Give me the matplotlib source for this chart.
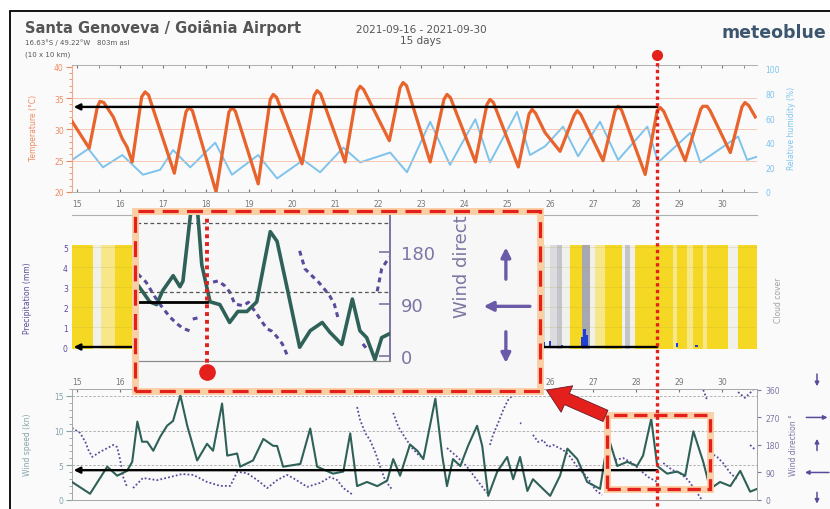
"""
Meteogram recreation: Santa Genoveva / Goiania airport, 15 days,
with the zoom inset and the annotation arrows drawn on top.
"""
import numpy as np
import matplotlib
matplotlib.use("Agg")
import matplotlib.pyplot as plt
from matplotlib.patches import Rectangle, FancyArrowPatch
from matplotlib.lines import Line2D
from matplotlib.transforms import Bbox, TransformedBbox

nan = np.nan

# ---- data (time in days of September 2021) ----
days = list(range(15, 31))

temp_t = [14.88, 15.28, 15.47, 15.53, 15.62, 15.84, 16.05, 16.16, 16.28,
          16.50, 16.58, 16.66, 17.26, 17.53, 17.60, 17.68, 18.23,
          18.53, 18.60, 18.68, 19.21, 19.49, 19.56, 19.64, 20.23,
          20.51, 20.58, 20.66, 21.23, 21.51, 21.58, 21.66, 22.26,
          22.51, 22.58, 22.66, 23.21, 23.53, 23.60, 23.68, 24.26,
          24.53, 24.60, 24.68, 25.26, 25.51, 25.58, 25.66, 25.88, 26.23,
          26.56, 26.63, 26.71, 27.23, 27.51, 27.58, 27.66, 28.21,
          28.49, 28.56, 28.64, 29.14, 29.50, 29.55, 29.65, 29.72, 30.19,
          30.46, 30.53, 30.62, 30.77]
temp_v = [31.3, 27.0, 33.6, 34.5, 34.3, 32.0, 28.5, 27.2, 24.8,
          35.2, 36.0, 35.5, 23.0, 32.8, 33.5, 33.0, 20.0,
          32.8, 33.5, 32.9, 21.3, 34.8, 35.6, 35.1, 24.5,
          35.4, 36.2, 35.7, 24.8, 36.1, 36.9, 36.4, 28.2,
          36.7, 37.5, 37.0, 24.8, 34.8, 35.6, 35.1, 24.8,
          34.0, 34.8, 34.3, 24.0, 32.5, 33.2, 32.6, 29.5, 26.5,
          32.3, 33.0, 32.4, 25.0, 33.0, 33.7, 33.1, 22.8,
          33.0, 33.5, 32.9, 25.0, 33.2, 33.7, 33.7, 33.0, 26.3,
          33.6, 34.3, 33.8, 32.0]

hum_t = [14.88, 15.26, 15.60, 16.05, 16.53, 16.93, 17.23, 17.63, 18.21, 18.60, 19.21,
         19.65, 20.26, 20.65, 21.19, 21.58, 22.28, 22.67, 23.21, 23.67, 24.26, 24.60,
         25.23, 25.53, 25.88, 26.30, 26.65, 27.16, 27.58, 28.26, 28.51, 29.26, 29.49,
         30.37, 30.58, 30.84]
hum_v = [26, 35, 20, 30, 14, 18, 34, 20, 40, 14, 30,
         11, 26, 16, 36, 24, 32, 16, 57, 22, 59, 24,
         65, 30, 37, 53, 29, 57, 26, 53, 24, 48, 24,
         45, 26, 29]

# cloud cover bands (only the parts not hidden by the inset), % cover
cloud_t0 = [14.88, 15.37, 15.56, 15.88, 25.77, 25.88, 26.00, 26.16, 26.28, 26.47, 26.74,
            26.93, 27.05, 27.28, 27.67, 27.74, 27.86, 27.98, 28.86, 28.95, 29.19, 29.33,
            29.56, 29.65, 30.14, 30.37]
cloud_t1 = [15.37, 15.56, 15.88, 16.35, 25.88, 26.00, 26.16, 26.28, 26.47, 26.74, 26.93,
            27.05, 27.28, 27.67, 27.74, 27.86, 27.98, 28.86, 28.95, 29.19, 29.33, 29.56,
            29.65, 30.14, 30.37, 30.84]
cloud_pct = [0, 40, 20, 0, 60, 40, 60, 80, 40, 0, 90,
             40, 20, 0, 40, 70, 30, 0, 20, 0, 20, 0,
             20, 0, 40, 0]

precip_t = [25.84, 26.00, 26.28, 26.74, 26.80, 26.86, 27.65, 28.95, 29.40]
precip_v = [0.25, 0.30, 0.08, 0.50, 0.90, 0.60, 0.05, 0.20, 0.08]

ws_t = [14.88, 15.30, 15.70, 15.93, 16.16, 16.28, 16.40, 16.51, 16.63, 16.77, 16.93,
        17.09, 17.23, 17.40, 17.56, 17.79, 18.02, 18.16, 18.37, 18.49, 18.72, 18.79,
        19.09, 19.33, 19.56, 19.65, 19.79, 20.19, 20.42, 20.58, 20.95, 21.19, 21.35,
        21.51, 21.74, 21.98, 22.21, 22.35, 22.51, 22.74, 22.91, 23.05, 23.33, 23.49,
        23.60, 23.74, 23.91, 24.09, 24.30, 24.42, 24.56, 24.77, 25.00, 25.14, 25.30,
        25.47, 25.60, 26.00, 26.23, 26.40, 26.63, 26.86, 27.16, 27.35, 27.56, 27.79,
        28.02, 28.16, 28.35, 28.49, 28.72, 28.95, 29.14, 29.33, 29.56, 29.72, 29.95,
        30.19, 30.42, 30.65, 30.81]
ws_v = [2.6, 0.9, 4.8, 3.5, 4.2, 5.5, 11.3, 8.4, 8.4, 7.1, 9.1,
        10.7, 11.4, 15.1, 10.7, 5.7, 8.1, 7.1, 13.9, 6.4, 6.7, 4.8,
        5.7, 8.8, 7.8, 7.8, 4.8, 5.2, 10.3, 4.8, 3.8, 4.1, 9.6,
        2.0, 2.6, 2.0, 2.8, 5.9, 3.5, 8.0, 7.1, 5.9, 14.6, 6.4,
        2.0, 5.9, 4.9, 7.8, 10.7, 7.8, 0.6, 4.1, 6.2, 3.0, 6.2,
        1.3, 3.0, 0.6, 3.5, 7.4, 5.9, 2.6, 1.6, 9.1, 4.9, 5.5,
        4.9, 6.4, 11.7, 4.9, 3.8, 4.1, 3.5, 9.9, 5.5, 1.6, 2.6,
        2.0, 4.2, 1.2, 1.6]

# wind direction, nan separates runs of dots
wd_t = [14.88, 15.07, 15.19, 15.26, 15.35, 15.53, 15.84, 15.93, 16.00, 16.07, 16.16, nan,
        16.30, 16.53, 16.86, 17.16, 17.44, 17.70, 18.02, 18.33, 18.56, 18.72, 18.95,
        19.19, 19.42, 19.65, 19.88, 20.02, 20.35, 20.65, 20.88, 21.05, 21.19, 21.42, nan,
        21.51, 21.58, 21.70, 21.81, 21.93, 22.05, 22.16, 22.33, nan,
        22.35, 22.47, 22.63, 22.79, 22.98, nan,
        23.60, 23.84, 24.07, 24.30, 24.53, nan,
        24.60, 24.67, 24.72, 24.79, 24.91, 25.02, 25.14, nan,
        25.30, 25.33, nan,
        25.60, 25.72, 25.84, 25.95, 26.07, 26.30, 26.47, 26.63, 26.86, 27.05, 27.21, nan,
        27.51, 27.70, 27.91, 28.09, 28.28, 28.49, nan,
        28.63, 28.84, 29.02, 29.21, 29.42, 29.53, nan,
        29.56, 29.65, nan,
        29.72, 29.88, 30.02, 30.19, 30.37, nan,
        30.37, 30.53, 30.72, nan,
        30.65, 30.77]
wd_v = [236, 219, 190, 164, 141, 157, 180, 173, 131, 75, 43, nan,
        39, 72, 65, 75, 85, 82, 59, 46, 46, 92, 88,
        65, 39, 65, 82, 72, 43, 56, 75, 65, 39, 16, nan,
        304, 262, 219, 196, 157, 108, 65, 33, nan,
        285, 239, 203, 170, 141, nan,
        170, 141, 108, 65, 23, nan,
        180, 213, 229, 252, 295, 327, 344, nan,
        252, 250, nan,
        213, 190, 196, 173, 180, 164, 141, 108, 75, 33, 16, nan,
        131, 137, 121, 98, 75, 59, nan,
        121, 98, 88, 65, 23, 0, nan,
        360, 327, nan,
        154, 141, 121, 88, 65, nan,
        353, 334, 360, nan,
        180, 164]

# zoomed inset (end of the period)
ins_ws_t = [27.56, 27.64, 27.73, 27.82, 27.90, 28.04, 28.13, 28.17, 28.29, 28.36, 28.42,
            28.53, 28.66, 28.79, 28.90, 29.02, 29.15, 29.33, 29.42, 29.55, 29.72, 29.86,
            30.02, 30.12, 30.28, 30.42, 30.52, 30.61, 30.72, 30.81, 30.92]
ins_ws_v = [5.6, 5.0, 4.3, 4.1, 5.1, 6.2, 5.4, 5.8, 11.6, 11.2, 7.0,
            4.3, 4.1, 2.8, 3.6, 3.6, 4.3, 9.4, 8.7, 5.4, 1.0, 2.2,
            2.8, 2.1, 1.2, 4.5, 2.2, 1.7, 0.1, 1.7, 2.0]
ins_wd_t = [27.57, 27.68, 27.79, 27.88, 28.00, 28.10, 28.17, 28.27, nan,
            28.30, 28.40, nan,
            28.57, 28.64, 28.73, 28.79, 28.86, 28.97, 29.04, 29.15, 29.22, 29.29, 29.35,
            29.42, 29.49, 29.53, 29.56, nan,
            29.72, 29.79, 29.89, 29.97, 30.03, 30.12, 30.18, 30.24, nan,
            30.56, 30.63, nan,
            30.75, 30.81, 30.87, 30.92]
ins_wd_v = [142, 128, 104, 87, 67, 55, 48, 43, nan,
            64, 67, nan,
            128, 130, 121, 111, 90, 87, 93, 73, 59, 47, 43,
            33, 21, 9, 0, nan,
            182, 151, 138, 128, 119, 104, 90, 61, nan,
            21, 9, nan,
            112, 151, 163, 171]

# the marked moment and the values read at it
t_mark = 28.49
temp_mark = 33.6
wind_mark = 4.3

# ---- layout helpers (pixel boxes of an 830x510 picture) ----
W, H = 830, 510


def fx(x):
    return x / W


def fy(y):
    return 1 - y / H


def box(x0, y0, x1, y1):
    return [fx(x0), fy(y1), (x1 - x0) / W, (y1 - y0) / H]


C_TEMP = "#e8642c"
C_TEMP_TXT = "#ee8a60"
C_HUM = "#7ec3ec"
C_PREC = "#1f3fd0"
C_PREC_TXT = "#5b4a9b"
C_WS = "#2f6158"
C_WS_TXT = "#86a4aa"
C_DIR = "#5b4a9b"
C_DIR_TXT = "#7b76a3"
C_RED = "#e3201b"
XLIM = (14.88, 30.81)


def cloud_colour(p):
    if p <= 0:
        return "#f5d823"
    if p <= 20:
        return "#f7e78a"
    if p <= 40:
        return "#f1f1ec"
    if p <= 60:
        return "#dcdce0"
    if p <= 80:
        return "#c4c4ca"
    return "#a8a8b0"


def black_arrow(ax, x_from, x_to, y):
    ax.annotate("", xy=(x_to, y), xytext=(x_from, y),
                arrowprops=dict(arrowstyle="-|>", color="black", lw=1.7,
                                mutation_scale=9, shrinkA=0, shrinkB=0),
                annotation_clip=False, zorder=6)


fig = plt.figure(figsize=(8.3, 5.1), dpi=100)
fig.patch.set_facecolor("white")
fig.add_artist(Rectangle((fx(10), fy(515)), (840 - 10) / W, (515 - 12) / H,
                         transform=fig.transFigure, facecolor="#fafafa",
                         edgecolor="black", lw=1.3, zorder=-1))

# ---- header ----
fig.text(fx(25), fy(33), "Santa Genoveva / Goiânia Airport", fontsize=10.5,
         color="#555555", fontweight="semibold")
fig.text(fx(25), fy(45), "16.63°S / 49.22°W   803m asl", fontsize=5, color="#555555")
fig.text(fx(25), fy(56), "(10 x 10 km)", fontsize=5, color="#555555")
fig.text(fx(421), fy(33), "2021-09-16 - 2021-09-30", fontsize=7.5, color="#555555", ha="center")
fig.text(fx(421), fy(44), "15 days", fontsize=7.5, color="#555555", ha="center")
fig.text(fx(826), fy(38), "meteoblue", fontsize=12.5, color="#3b566e", ha="right",
         fontweight="bold")

# ---- panel 1: temperature + humidity ----
ax1 = fig.add_axes(box(72, 66, 757, 193))
ax1h = ax1.twinx()
ax1.set_zorder(ax1h.get_zorder() + 1)
ax1.patch.set_visible(False)
ax1h.plot(hum_t, hum_v, color=C_HUM, lw=1.4, solid_joinstyle="round")
ax1.plot(temp_t, temp_v, color=C_TEMP, lw=2.3, solid_joinstyle="round", zorder=3)
for v in (25, 30, 35):
    ax1.axhline(v, color="#f3c0a8", lw=0.6, zorder=1)
ax1.set_xlim(*XLIM)
ax1.set_ylim(20, 40.3)
ax1h.set_ylim(0, 103)
ax1.set_xticks(days)
ax1.set_xticks(np.arange(15, 31, 0.5), minor=True)
ax1.set_yticks([20, 25, 30, 35, 40])
ax1.set_yticks(range(20, 41), minor=True)
ax1h.set_yticks(range(0, 101, 20))
ax1.tick_params(axis="x", which="both", labelsize=5.5, colors="#777", length=2,
                pad=5, top=True, direction="in")
ax1.tick_params(axis="y", which="major", labelsize=5.5, colors=C_TEMP_TXT, length=4, pad=2)
ax1.tick_params(axis="y", which="minor", colors=C_TEMP_TXT, length=2)
ax1h.tick_params(axis="y", labelsize=5.5, colors=C_HUM, length=0, pad=6)
for a in (ax1, ax1h):
    for s in ("top", "bottom"):
        a.spines[s].set_color("#b0b0b0")
        a.spines[s].set_linewidth(0.7)
    a.spines["right"].set_visible(False)
ax1.spines["left"].set_color("#f2a888")
ax1h.spines["left"].set_visible(False)
black_arrow(ax1, t_mark, XLIM[0] + 0.04, temp_mark)
fig.text(fx(33), fy(128), "Temperature (°C)", rotation=90, fontsize=5.5,
         color=C_TEMP_TXT, ha="center", va="center")
fig.text(fx(791), fy(128), "Relative humidity (%)", rotation=90, fontsize=5.5,
         color=C_HUM, ha="center", va="center")

# ---- panel 2: cloud cover + precipitation ----
ax2 = fig.add_axes(box(72, 216, 757, 350))
ax2.patch.set_visible(False)
widths = [b - a for a, b in zip(cloud_t0, cloud_t1)]
ax2.bar(cloud_t0, 5.2, width=widths, bottom=-0.1, align="edge",
        color=[cloud_colour(p) for p in cloud_pct], linewidth=0, zorder=1)
for v in range(1, 6):
    ax2.axhline(v, color="#b8a640", lw=0.5, alpha=0.3, zorder=2)
ax2.bar(precip_t, precip_v, width=0.06, color=C_PREC, zorder=3)
ax2.set_xlim(*XLIM)
ax2.set_ylim(-0.1, 6.6)
ax2.set_yticks(range(0, 6))
ax2.set_xticks([])
ax2.tick_params(axis="y", labelsize=5.5, colors=C_PREC_TXT, length=0, pad=3)
for s in ("left", "right", "bottom"):
    ax2.spines[s].set_visible(False)
ax2.spines["top"].set_color("#b0b0b0")
ax2.spines["top"].set_linewidth(0.8)
black_arrow(ax2, t_mark, XLIM[0] + 0.04, 0)
fig.text(fx(28), fy(298), "Precipitation (mm)", rotation=90, fontsize=5.5,
         color=C_PREC_TXT, ha="center", va="center")
fig.text(fx(778), fy(300), "Cloud cover", rotation=90, fontsize=5.5,
         color="#a0a0a0", ha="center", va="center")

# ---- panel 3: wind speed + direction ----
ax3 = fig.add_axes(box(72, 390, 757, 501))
ax3r = ax3.twinx()
ax3.set_zorder(ax3r.get_zorder() + 1)
ax3.patch.set_visible(False)
ax3r.plot(wd_t, wd_v, color=C_DIR, lw=1.3, ls=(0, (1, 1.2)))
for v in (5, 10, 15):
    ax3.axhline(v, color="#a8a8a8", lw=0.6, ls=(0, (3, 2)), zorder=1)
ax3.plot(ws_t, ws_v, color=C_WS, lw=1.5, solid_joinstyle="round", zorder=3)
ax3.set_xlim(*XLIM)
ax3.set_ylim(0, 16)
ax3r.set_ylim(0, 363)
ax3.set_xticks(days)
ax3.set_yticks([0, 5, 10, 15])
ax3.set_yticks(range(0, 17), minor=True)
ax3r.set_yticks([0, 90, 180, 270, 360])
ax3.tick_params(axis="x", labelsize=5.5, colors="#777", length=2, top=True,
                labeltop=True, bottom=False, labelbottom=False, pad=2, direction="in")
ax3.tick_params(axis="y", which="major", labelsize=5.5, colors=C_WS_TXT, length=4, pad=2)
ax3.tick_params(axis="y", which="minor", colors=C_WS_TXT, length=2)
ax3r.tick_params(axis="y", labelsize=5.5, colors=C_DIR_TXT, length=3, pad=3)
for a in (ax3, ax3r):
    for s in a.spines.values():
        s.set_color("#a8a8a8")
        s.set_linewidth(0.7)
black_arrow(ax3, t_mark, XLIM[0] + 0.04, wind_mark)
fig.text(fx(28), fy(445), "Wind speed (kn)", rotation=90, fontsize=5.5,
         color=C_WS_TXT, ha="center", va="center")
fig.text(fx(793), fy(445), "Wind direction °", rotation=90, fontsize=5.5,
         color=C_DIR_TXT, ha="center", va="center")

# compass arrows to the right of the direction axis
ytr = ax3r.get_yaxis_transform()
arrow_kw = dict(arrowstyle="-|>", color=C_DIR, lw=1.1, mutation_scale=6,
                shrinkA=0, shrinkB=0)
ax3r.annotate("", xy=(1.0876, 372), xytext=(1.0876, 412), xycoords=ytr,
              arrowprops=arrow_kw, annotation_clip=False)
ax3r.annotate("", xy=(1.103, 270), xytext=(1.072, 270), xycoords=ytr,
              arrowprops=arrow_kw, annotation_clip=False)
ax3r.annotate("", xy=(1.0876, 200), xytext=(1.0876, 162), xycoords=ytr,
              arrowprops=arrow_kw, annotation_clip=False)
ax3r.annotate("", xy=(1.07, 90), xytext=(1.105, 90), xycoords=ytr,
              arrowprops=arrow_kw, annotation_clip=False)
ax3r.annotate("", xy=(1.0876, -12), xytext=(1.0876, 25), xycoords=ytr,
              arrowprops=arrow_kw, annotation_clip=False)

# small red dashed box around the zoomed period
zoom_box = (27.33, 1.6, 29.72 - 27.33, 12.3 - 1.6)
ax3.add_patch(Rectangle(zoom_box[:2], *zoom_box[2:], fill=False, edgecolor="#fcd0a8",
                        lw=5, zorder=8, clip_on=False))
ax3.add_patch(Rectangle(zoom_box[:2], *zoom_box[2:], fill=False, edgecolor=C_RED,
                        lw=2.4, ls=(0, (4, 2)), zorder=9, clip_on=False))

# ---- inset ----
bg = Rectangle((fx(135), fy(392)), (540 - 135) / W, (392 - 212) / H,
               transform=fig.transFigure, facecolor="#f7f7f7", edgecolor="none", zorder=5)
fig.add_artist(bg)
fig.add_artist(Rectangle((fx(135), fy(392)), (540 - 135) / W, (392 - 212) / H,
                         transform=fig.transFigure, fill=False, edgecolor="#fbcfa5",
                         lw=5, zorder=8))
fig.add_artist(Rectangle((fx(135), fy(392)), (540 - 135) / W, (392 - 212) / H,
                         transform=fig.transFigure, fill=False, edgecolor=C_RED,
                         lw=2.3, ls=(0, (5, 2.6)), zorder=9))

ax_in = fig.add_axes(box(137, 212, 390, 362))
ax_in_r = ax_in.twinx()
ax_in_r.set_zorder(6)
ax_in.set_zorder(7)
ax_in.patch.set_visible(False)
ax_in_r.patch.set_visible(False)
ax_in.set_xlim(27.56, 30.92)
ax_in.set_ylim(0, 10.9)
ax_in_r.set_ylim(-8.6, 251)
for v in (5, 10):
    ax_in.axhline(v, color="#555555", lw=0.9, ls=(0, (3, 2.2)), zorder=1)
ax_in_r.plot(ins_wd_t, ins_wd_v, color=C_DIR, lw=2.2, ls=(0, (1.6, 1.4)))
ax_in.plot(ins_ws_t, ins_ws_v, color=C_WS, lw=2.6, solid_joinstyle="round", zorder=3)
ax_in.plot([27.56, t_mark], [wind_mark, wind_mark], color="black", lw=2, zorder=4)
ax_in.plot([t_mark, t_mark], [10.9, -0.75], color=C_RED, lw=2.8, ls=(0, (1, 1)),
           clip_on=False, zorder=5)
ax_in.plot([t_mark], [-0.8], marker="o", ms=11, color=C_RED, clip_on=False, zorder=5)
ax_in.set_xticks([])
ax_in.set_yticks([])
ax_in_r.set_yticks([0, 90, 180])
ax_in_r.tick_params(axis="y", labelsize=13, colors=C_DIR_TXT, direction="in",
                    length=8, width=1.2, pad=8)
for a in (ax_in, ax_in_r):
    a.spines["top"].set_visible(False)
    a.spines["left"].set_color("#b0b0b0")
    a.spines["bottom"].set_color("#8a8a8a")
    a.spines["right"].set_color(C_DIR_TXT)
    a.spines["right"].set_linewidth(1.3)
# the label is cut off by the top of the inset, as in the original
lbl = ax_in_r.text(1.285, 67, "Wind direction °", transform=ax_in_r.get_yaxis_transform(),
                   rotation=90, fontsize=13, color=C_DIR_TXT, ha="center", va="bottom")
lbl.set_clip_on(True)
lbl.set_clip_box(TransformedBbox(Bbox.from_extents(fx(135), fy(392), fx(540), fy(214)),
                                 fig.transFigure))
ytr_in = ax_in_r.get_yaxis_transform()
big_kw = dict(arrowstyle="-|>", color="#6a5aa8", lw=2.4, mutation_scale=14,
              shrinkA=0, shrinkB=0)
ax_in_r.annotate("", xy=(1.458, 188), xytext=(1.458, 133), xycoords=ytr_in,
                 arrowprops=big_kw, annotation_clip=False)
ax_in_r.annotate("", xy=(1.37, 86), xytext=(1.553, 86), xycoords=ytr_in,
                 arrowprops=big_kw, annotation_clip=False)
ax_in_r.annotate("", xy=(1.458, -12), xytext=(1.458, 42), xycoords=ytr_in,
                 arrowprops=big_kw, annotation_clip=False)

# ---- red marker line through all panels ----
x_pix = ax1.transData.transform((t_mark, 30))[0]
fig.add_artist(Line2D([x_pix / W, x_pix / W], [fy(57), fy(512)], transform=fig.transFigure,
                      color=C_RED, lw=2.4, ls=(0, (1, 1)), zorder=10))
fig.add_artist(Line2D([x_pix / W], [fy(56)], transform=fig.transFigure, marker="o",
                      ms=7, color=C_RED, zorder=10))

# ---- red arrow pointing from the small box to the inset ----
fig.add_artist(FancyArrowPatch((fx(608), fy(418)), (fx(544), fy(390)),
                               transform=fig.transFigure,
                               arrowstyle="simple,head_width=1.3,head_length=1.0,tail_width=0.55",
                               mutation_scale=16, facecolor=C_RED, edgecolor="#6a1a2a",
                               lw=0.6, zorder=9))

fig.savefig("out.png", dpi=100)
plt.close(fig)
